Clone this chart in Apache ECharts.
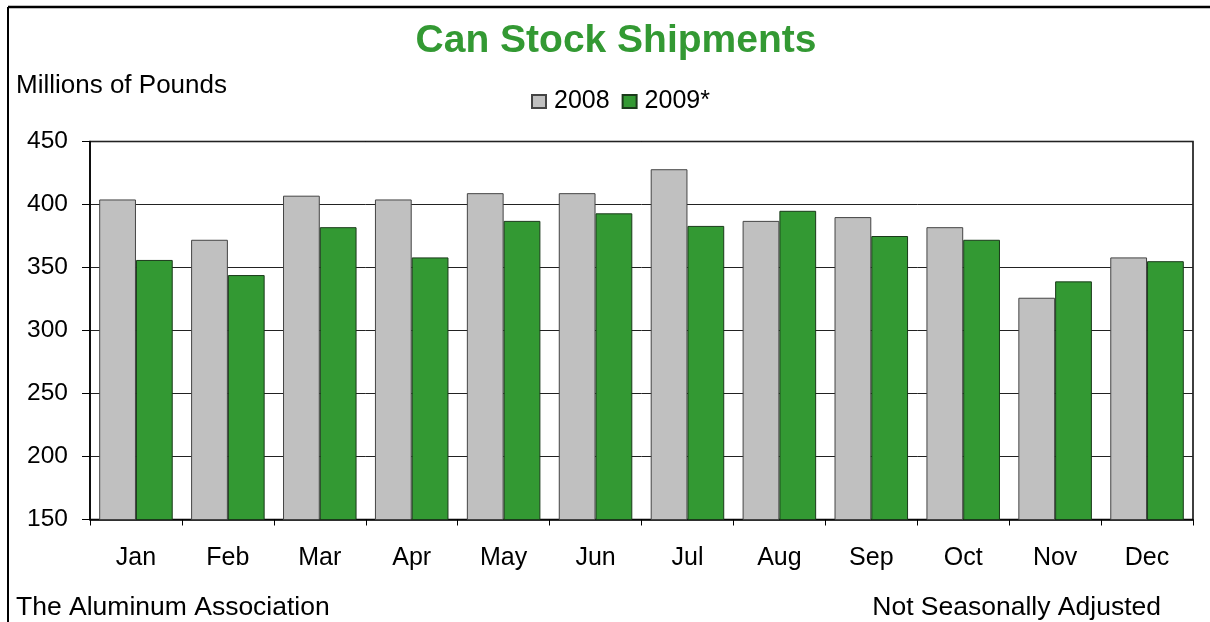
<!DOCTYPE html>
<html>
<head>
<meta charset="utf-8">
<script src="https://cdn.jsdelivr.net/npm/echarts@6/dist/echarts.min.js"></script>
<style>html,body{margin:0;padding:0;background:#fff}#c{width:1210px;height:622px}</style>
</head>
<body>
<div id="c"></div>
<script>
const months = ['Jan','Feb','Mar','Apr','May','Jun','Jul','Aug','Sep','Oct','Nov','Dec'];
const s2008 = [404, 372, 407, 404, 409, 409, 428, 387, 390, 382, 326, 358];
const s2009 = [356, 344, 382, 358, 387, 393, 383, 395, 375, 372, 339, 355];
const seriesNames = ['2008', '2009*'];

const F = 'Liberation Sans, Arial, sans-serif';
const chart = echarts.init(document.getElementById('c'), null, {renderer: 'canvas'});
chart.setOption({
  backgroundColor: '#fff',
  animation: false,
  textStyle: {fontFamily: F},
  title: {
    text: 'Can Stock Shipments',
    left: 616, top: 22, textAlign: 'center', padding: 0,
    textStyle: {color: '#339933', fontSize: 39, fontWeight: 'bold', fontFamily: F}
  },
  legend: {
    data: seriesNames,
    left: 531, top: 89, padding: 0,
    itemWidth: 14, itemHeight: 13, itemGap: 12,
    textStyle: {fontSize: 25, color: '#000', fontFamily: F, padding: [0, 0, 0, 3]},
    icon: 'rect'
  },
  grid: {left: 90, right: 17, top: 141.5, bottom: 102.5, show: true, borderColor: '#000', borderWidth: 1.5, backgroundColor: 'transparent'},
  xAxis: {
    type: 'category', data: months,
    axisLine: {lineStyle: {color: '#000', width: 1.5}},
    axisTick: {show: true, alignWithLabel: false, length: 6, lineStyle: {color: '#000'}},
    axisLabel: {fontSize: 25, color: '#000', margin: 26, fontFamily: F}
  },
  yAxis: {
    type: 'value', min: 150, max: 450, interval: 50,
    axisLine: {show: true, lineStyle: {color: '#000', width: 1.5}},
    axisTick: {show: true, length: 8, lineStyle: {color: '#000'}},
    axisLabel: {fontSize: 24.5, color: '#000', margin: 22, fontFamily: F},
    splitLine: {lineStyle: {color: '#222', width: 1}}
  },
  series: [
    {name: seriesNames[0], type: 'bar', data: s2008, barGap: '0%', barCategoryGap: '20%',
     itemStyle: {color: '#C0C0C0', borderColor: '#444', borderWidth: 1}},
    {name: seriesNames[1], type: 'bar', data: s2009,
     itemStyle: {color: '#339933', borderColor: '#1a3a1a', borderWidth: 1}}
  ],
  graphic: [
    {type: 'line', shape: {x1: 8, y1: 7, x2: 1210, y2: 7}, style: {stroke: '#000', lineWidth: 2.5}},
    {type: 'line', shape: {x1: 8, y1: 7, x2: 8, y2: 622}, style: {stroke: '#000', lineWidth: 2}},
    {type: 'text', left: 16, top: 73, style: {text: 'Millions of Pounds', fontSize: 26, fill: '#000', fontFamily: F}},
    {type: 'text', left: 16, top: 594, style: {text: 'The Aluminum Association', fontSize: 26.5, fill: '#000', fontFamily: F}},
    {type: 'text', right: 49, top: 594, style: {text: 'Not Seasonally Adjusted', fontSize: 26.5, fill: '#000', fontFamily: F}}
  ]
});
</script>
</body>
</html>
